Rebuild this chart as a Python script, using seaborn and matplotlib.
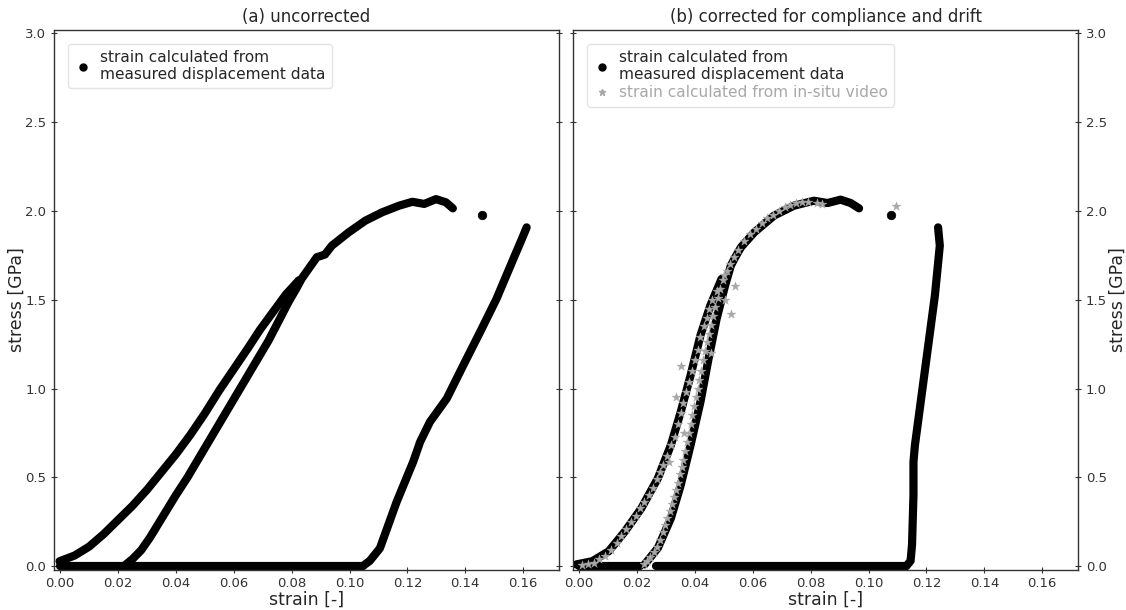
import matplotlib
matplotlib.use("Agg")
import matplotlib.pyplot as plt
from matplotlib.lines import Line2D
import pandas as pd
import seaborn as sns

# ---------------- (a) uncorrected ----------------
a_load_strain = [-0.0002, 0.005, 0.010, 0.015, 0.020, 0.025, 0.030, 0.035, 0.040,
                 0.045, 0.050, 0.055, 0.060, 0.065, 0.069, 0.0735, 0.078, 0.0825]
a_load_stress = [0.028, 0.06, 0.11, 0.18, 0.26, 0.34, 0.43, 0.53, 0.63,
                 0.74, 0.86, 0.99, 1.11, 1.23, 1.33, 1.43, 1.53, 1.61]

a_reload_strain = [0.022, 0.025, 0.028, 0.031, 0.034, 0.037, 0.040, 0.044, 0.048,
                   0.052, 0.056, 0.060, 0.064, 0.068, 0.072, 0.0755, 0.079, 0.0815,
                   0.0835, 0.0887, 0.0915, 0.0939, 0.0997, 0.1055, 0.1113, 0.1171,
                   0.1217, 0.1258, 0.1299, 0.1333, 0.1357]
a_reload_stress = [0.0, 0.04, 0.09, 0.16, 0.24, 0.32, 0.40, 0.50, 0.61,
                   0.72, 0.83, 0.94, 1.05, 1.16, 1.27, 1.38, 1.49, 1.56,
                   1.62, 1.74, 1.755, 1.805, 1.88, 1.946, 1.993, 2.03,
                   2.052, 2.04, 2.067, 2.049, 2.015]

a_base_strain = [0.0, 0.05, 0.1045]
a_base_stress = [0.0, 0.0, 0.0]

a_last_strain = [0.1045, 0.107, 0.1105, 0.1163, 0.122, 0.1244, 0.1278, 0.1336,
                 0.1393, 0.1451, 0.1508, 0.1566, 0.16, 0.1612]
a_last_stress = [0.0, 0.03, 0.101, 0.363, 0.588, 0.70, 0.813, 0.944,
                 1.131, 1.318, 1.506, 1.73, 1.86, 1.908]

a_single_strain = [0.1459]
a_single_stress = [1.979]

# ---------------- (b) corrected ----------------
b_load_strain = [-0.001, 0.0045, 0.0102, 0.0158, 0.0215, 0.0272, 0.0317, 0.0351,
                 0.0385, 0.0419, 0.0453, 0.0492]
b_load_stress = [0.01, 0.028, 0.084, 0.196, 0.327, 0.496, 0.683, 0.87,
                 1.076, 1.30, 1.468, 1.618]

b_reload_strain = [0.0226, 0.0272, 0.0317, 0.0351, 0.0385, 0.0419, 0.0447, 0.0475,
                   0.0504, 0.0524, 0.0541, 0.0559, 0.0605, 0.0673, 0.0742, 0.0811,
                   0.0858, 0.0903, 0.0938, 0.0967]
b_reload_stress = [0.01, 0.103, 0.271, 0.458, 0.683, 0.926, 1.169, 1.394,
                   1.58, 1.693, 1.745, 1.796, 1.88, 1.974, 2.03, 2.058,
                   2.045, 2.064, 2.045, 2.015]

b_base1_strain = [0.0, 0.021]
b_base1_stress = [0.0, 0.0]
b_base2_strain = [0.0265, 0.07, 0.113]
b_base2_stress = [0.0, 0.0, 0.0]

b_last_strain = [0.113, 0.1145, 0.115, 0.1155, 0.1155, 0.116, 0.1183, 0.1206,
                 0.1229, 0.1246, 0.124]
b_last_stress = [0.0, 0.03, 0.12, 0.40, 0.588, 0.681, 0.962, 1.243,
                 1.524, 1.805, 1.908]

b_single_strain = [0.1078]
b_single_stress = [1.978]

# strain from in-situ video
video_strain = [
    0.001, 0.003, 0.005, 0.007, 0.009, 0.011, 0.013, 0.0145, 0.016, 0.018,
    0.0195, 0.021, 0.0225, 0.024, 0.0255, 0.027, 0.028, 0.029, 0.0305, 0.0318,
    0.033, 0.034, 0.035, 0.0358, 0.037, 0.038, 0.039, 0.040, 0.041, 0.0418,
    0.043, 0.044, 0.045, 0.046, 0.0475,
    0.0225, 0.0235, 0.0245, 0.026, 0.027, 0.028, 0.0288, 0.0297, 0.0305, 0.0312,
    0.032, 0.0328, 0.0333, 0.034, 0.0347, 0.0355, 0.036, 0.0366, 0.0372, 0.0378,
    0.0385, 0.039, 0.0397, 0.0402, 0.041, 0.0415, 0.042, 0.0428, 0.0435, 0.044,
    0.0448, 0.0455, 0.0462, 0.047, 0.0478, 0.0488, 0.0498, 0.051,
    0.050, 0.052, 0.0535, 0.055, 0.057, 0.059, 0.061, 0.063, 0.065, 0.067,
    0.069, 0.071, 0.073, 0.075, 0.077, 0.079, 0.082, 0.084,
    0.0351, 0.0309, 0.0362, 0.054, 0.1096, 0.0525, 0.0505, 0.0335, 0.0455]
video_stress = [
    0.005, 0.01, 0.02, 0.04, 0.06, 0.09, 0.13, 0.17, 0.21, 0.25,
    0.28, 0.33, 0.36, 0.40, 0.44, 0.49, 0.53, 0.57, 0.62, 0.68,
    0.73, 0.80, 0.86, 0.92, 0.98, 1.04, 1.10, 1.16, 1.22, 1.29,
    1.35, 1.40, 1.45, 1.50, 1.55,
    0.01, 0.03, 0.05, 0.08, 0.11, 0.15, 0.19, 0.23, 0.27, 0.31,
    0.35, 0.39, 0.43, 0.47, 0.52, 0.56, 0.60, 0.65, 0.70, 0.75,
    0.80, 0.85, 0.90, 0.95, 1.00, 1.05, 1.10, 1.16, 1.21, 1.26,
    1.31, 1.36, 1.41, 1.46, 1.51, 1.56, 1.61, 1.66,
    1.64, 1.70, 1.74, 1.78, 1.83, 1.87, 1.90, 1.93, 1.96, 1.98,
    2.00, 2.02, 2.035, 2.045, 2.05, 2.05, 2.045, 2.04,
    1.128, 0.584, 0.748, 1.58, 2.03, 1.42, 1.50, 0.95, 1.20]

titles = ["(a) uncorrected", "(b) corrected for compliance and drift"]
yticks = [0.0, 0.5, 1.0, 1.5, 2.0, 2.5, 3.0]
xticks = [0.00, 0.02, 0.04, 0.06, 0.08, 0.10, 0.12, 0.14, 0.16]


def segments_frame(parts):
    frames = []
    for i, (sx, sy) in enumerate(parts):
        frames.append(pd.DataFrame({"strain": sx, "stress": sy, "seg": i}))
    return pd.concat(frames, ignore_index=True)


sns.set_style("ticks")
plt.rcParams["font.family"] = ["DejaVu Sans"]
plt.rcParams["axes.edgecolor"] = "#333333"
plt.rcParams["xtick.color"] = "#333333"
plt.rcParams["ytick.color"] = "#333333"

fig = plt.figure(figsize=(11.26, 6.10), dpi=100)
ax_a = fig.add_axes([0.048, 0.066, 0.4485, 0.885])
ax_b = fig.add_axes([0.509, 0.066, 0.4485, 0.885])

black = "#000000"
grey = "#a8a8a8"
lw = 5.9

df_a = segments_frame([(a_load_strain, a_load_stress),
                       (a_reload_strain, a_reload_stress),
                       (a_base_strain, a_base_stress),
                       (a_last_strain, a_last_stress)])
sns.lineplot(data=df_a, x="strain", y="stress", units="seg", estimator=None,
             sort=False, color=black, lw=lw, legend=False, ax=ax_a,
             solid_capstyle="round", solid_joinstyle="round")
sns.scatterplot(x=a_single_strain, y=a_single_stress, color=black, s=38,
                edgecolor=black, ax=ax_a, legend=False)

df_b = segments_frame([(b_load_strain, b_load_stress),
                       (b_reload_strain, b_reload_stress),
                       (b_base1_strain, b_base1_stress),
                       (b_base2_strain, b_base2_stress),
                       (b_last_strain, b_last_stress)])
sns.lineplot(data=df_b, x="strain", y="stress", units="seg", estimator=None,
             sort=False, color=black, lw=lw, legend=False, ax=ax_b,
             solid_capstyle="round", solid_joinstyle="round")
sns.scatterplot(x=b_single_strain, y=b_single_stress, color=black, s=38,
                edgecolor=black, ax=ax_b, legend=False)
sns.scatterplot(x=video_strain, y=video_stress, marker="*", color=grey, s=45,
                edgecolor=grey, linewidth=0.3, ax=ax_b, legend=False, zorder=4)

dot = Line2D([], [], ls="none", marker="o", color=black, markersize=5)
star = Line2D([], [], ls="none", marker="*", color=grey, markersize=5)
label_dot = "strain calculated from\nmeasured displacement data"
label_star = "strain calculated from in-situ video"

leg_a = ax_a.legend([dot], [label_dot], loc="upper left", fontsize=11.1,
                    frameon=True, borderaxespad=0.9, handletextpad=0.5,
                    handlelength=1.2, labelspacing=0.2)
leg_b = ax_b.legend([dot, star], [label_dot, label_star], loc="upper left",
                    fontsize=11.1, frameon=True, borderaxespad=0.9,
                    handletextpad=0.5, handlelength=1.2, labelspacing=0.2)
leg_b.get_texts()[1].set_color(grey)
for leg in (leg_a, leg_b):
    leg.get_frame().set_edgecolor("#dddddd")

for ax, title in zip((ax_a, ax_b), titles):
    ax.set_xlim(-0.0021, 0.1724)
    ax.set_ylim(-0.02, 3.02)
    ax.set_xticks(xticks)
    ax.set_yticks(yticks)
    ax.set_xticklabels([f"{t:.2f}" for t in xticks])
    ax.set_yticklabels([f"{t:.1f}" for t in yticks])
    ax.set_title(title, fontsize=12, pad=6)
    ax.set_xlabel("strain [-]", fontsize=12.5, labelpad=0)
    ax.tick_params(axis="both", labelsize=9.5, direction="inout", length=5,
                   width=0.8, pad=3)
    ax.tick_params(axis="y", left=True, right=True)
    for sp in ax.spines.values():
        sp.set_visible(True)
        sp.set_linewidth(1.0)

ax_a.set_ylabel("stress [GPa]", fontsize=12.5, labelpad=0)
ax_b.yaxis.set_label_position("right")
ax_b.yaxis.tick_right()
ax_b.tick_params(axis="y", left=True, right=True, labelleft=False,
                 labelright=True)
ax_b.set_ylabel("stress [GPa]", fontsize=12.5, labelpad=1)

fig.savefig("out.png", dpi=100)
